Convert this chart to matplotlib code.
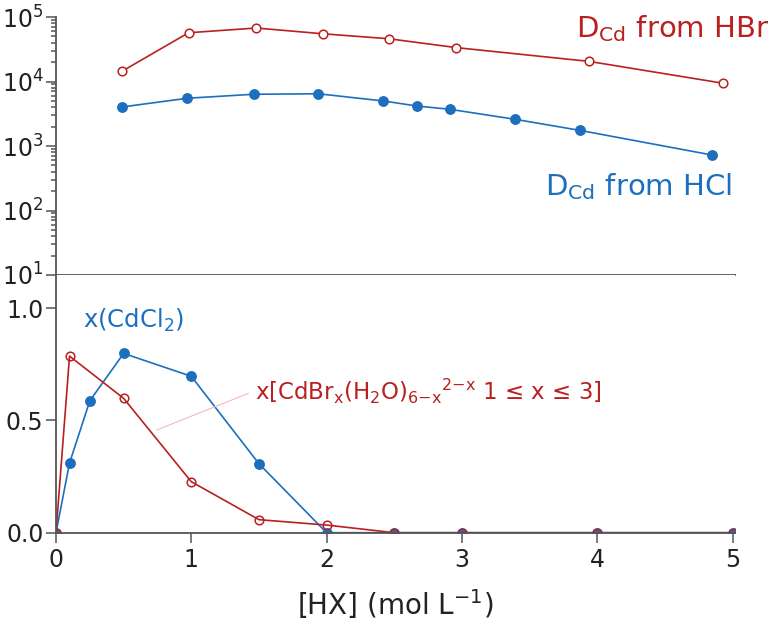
import matplotlib
matplotlib.use("Agg")
import matplotlib.pyplot as plt
from matplotlib.ticker import FixedLocator, FormatStrFormatter, LogLocator, NullFormatter

plt.rcParams['font.family'] = ['DejaVu Sans']
plt.rcParams['mathtext.fontset'] = 'custom'
plt.rcParams['mathtext.rm'] = 'DejaVu Sans'
plt.rcParams['mathtext.it'] = 'DejaVu Sans'
plt.rcParams['mathtext.bf'] = 'DejaVu Sans'
plt.rcParams['mathtext.default'] = 'regular'

RED = '#b8211f'
BLUE = '#1c6fbf'
GRAY = '#555555'

# Top panel: distribution ratios (log scale)
hbr_x = [0.49, 0.98, 1.48, 1.97, 2.46, 2.96, 3.94, 4.93]
hbr_D = [14500, 57000, 67500, 55000, 46000, 33500, 20500, 9400]
hcl_x = [0.49, 0.97, 1.46, 1.94, 2.42, 2.67, 2.91, 3.39, 3.87, 4.85]
hcl_D = [4030, 5500, 6340, 6450, 4990, 4160, 3710, 2600, 1750, 724]

# Bottom panel: species fractions
frac_x = [0, 0.1, 0.25, 0.5, 1.0, 1.5, 2.0, 2.5, 3, 4, 5]
cdcl2_frac = [0, 0.31, 0.587, 0.798, 0.696, 0.307, 0.0, 0.0, 0.0, 0.0, 0.0]
brx_x = [0, 0.1, 0.5, 1.0, 1.5, 2.0, 2.5, 3, 4, 5]
cdbr_frac = [0, 0.786, 0.598, 0.227, 0.058, 0.034, 0.0, 0.0, 0.0, 0.0]

x_ticks = [0, 1, 2, 3, 4, 5]
y_ticks_bottom = [0.0, 0.5, 1.0]

W, H = 771, 630
fig = plt.figure(figsize=(W / 100, H / 100), dpi=100)

left = 56 / W
right_px = 56 + 5.02 * 135.3
width = (right_px - 56) / W

ax1 = fig.add_axes([left, 1 - 275 / H, width, (275 - 17) / H])
ax2 = fig.add_axes([left, 1 - 532.7 / H, width, (532.7 - 275) / H])

for ax in (ax1, ax2):
    ax.spines['top'].set_visible(False)
    ax.spines['right'].set_visible(False)
    for s in ('left', 'bottom'):
        ax.spines[s].set_color(GRAY)
        ax.spines[s].set_linewidth(1.3)
    ax.set_xlim(0, 5.02)
    ax.tick_params(which='both', direction='out', color=GRAY, width=1.1,
                   labelsize=17, labelcolor='#222222')
    ax.tick_params(which='major', length=7)
    ax.tick_params(which='minor', length=3.5)

# Top panel
ax1.plot(hcl_x, hcl_D, '-o', color=BLUE, lw=1.2, ms=6.8, mfc=BLUE, mec=BLUE)
ax1.plot(hbr_x, hbr_D, '-o', color=RED, lw=1.2, ms=6.2, mfc='white', mec=RED, mew=1.1)
ax1.set_yscale('log')
ax1.set_ylim(10, 1e5)
ax1.yaxis.set_major_locator(LogLocator(base=10, numticks=10))
ax1.yaxis.set_minor_locator(LogLocator(base=10, subs=range(2, 10), numticks=10))
ax1.yaxis.set_minor_formatter(NullFormatter())
ax1.xaxis.set_major_locator(FixedLocator([1, 2, 3, 4, 5]))
ax1.tick_params(axis='x', labelbottom=False)
ax1.tick_params(axis='y', pad=2)

fig.text(769 / W, 1 - 37 / H, r'D$_{Cd}$ from HBr', color=RED, fontsize=21,
         ha='right', va='baseline')
fig.text(732 / W, 1 - 195 / H, r'D$_{Cd}$ from HCl', color=BLUE, fontsize=21,
         ha='right', va='baseline')

# Bottom panel
ax2.plot(frac_x, cdcl2_frac, '-o', color=BLUE, lw=1.2, ms=6.8, mfc=BLUE, mec=BLUE)
ax2.plot(brx_x, cdbr_frac, '-o', color=RED, lw=1.2, ms=6.2, mfc='none', mec=RED, mew=1.1)
ax2.set_ylim(0, 1.147)
ax2.yaxis.set_major_locator(FixedLocator(y_ticks_bottom))
ax2.yaxis.set_major_formatter(FormatStrFormatter('%.1f'))
ax2.xaxis.set_major_locator(FixedLocator(x_ticks))
ax2.tick_params(axis='y', pad=2)
ax2.tick_params(axis='x', pad=4)

ax2.plot([0.744, 1.421], [0.457, 0.620], color='#f5b9b9', lw=0.8)
ax2.text(0.202, 0.91, r'x(CdCl$_2$)', color=BLUE, fontsize=17.5, va='baseline', ha='left')
ax2.text(1.47, 0.59, r'x[CdBr$_x$(H$_2$O)$_{6{-}x}$$^{2{-}x}$ 1 ≤ x ≤ 3]',
         color=RED, fontsize=16.5, va='baseline', ha='left')

ax2.set_xlabel(r'[HX] (mol L$^{-1}$)', fontsize=20, color='#222222', labelpad=11)

fig.savefig('out.png', dpi=100)
